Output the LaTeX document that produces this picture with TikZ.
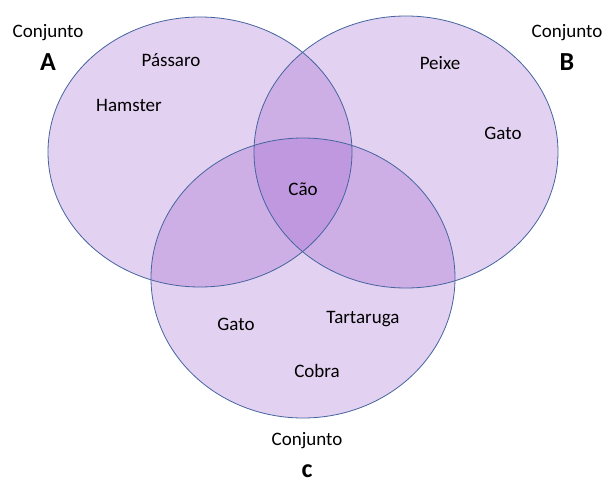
\documentclass[tikz,border=0pt]{standalone}
\usepackage{fontspec}
\setmainfont{Carlito}
\usepackage{tikz}
\usetikzlibrary{positioning}
\definecolor{setlilac}{RGB}{155,95,205}
\definecolor{setedge}{RGB}{70,100,160}

\begin{document}
\begin{tikzpicture}[x=1pt,y=-1pt,
    setfill/.style={fill=setlilac,fill opacity=0.29},
    lbl/.style={inner sep=0pt,font=\fontsize{19}{22}\selectfont},
    setname/.style={inner sep=0pt,font=\fontsize{26}{30}\selectfont\bfseries}]
  \useasboundingbox (0,0) rectangle (611,492);
  % the three sets
  \foreach \cx/\cy/\ry in {200/152/135,406/152/136,303/278/140}
    \fill[setfill] (\cx,\cy) ellipse [x radius=152, y radius=\ry];
  \foreach \cx/\cy/\ry in {200/152/135,406/152/136,303/278/140}
    \draw[setedge,line width=0.8pt] (\cx,\cy) ellipse [x radius=152, y radius=\ry];
  % set titles
  \node[lbl] (cjA) at (48,33) {Conjunto};
  \node[setname,below=12pt of cjA] (nmA) {A};
  \node[lbl] (cjB) at (567,33) {Conjunto};
  \node[setname,below=12pt of cjB] (nmB) {B};
  \node[lbl] (cjC) at (307,441) {Conjunto};
  \node[setname,below=15pt of cjC] (nmC) {c};
  % elements
  \node[lbl] (passaro) at (171,60) {Pássaro};
  \node[lbl] (hamster) at (129,105) {Hamster};
  \node[lbl] (peixe) at (440,63) {Peixe};
  \node[lbl] (gatoB) at (503,133) {Gato};
  \node[lbl] (cao) at (303,189) {Cão};
  \node[lbl] (gatoC) at (236,324) {Gato};
  \node[lbl] (tartaruga) at (363,319) {Tartaruga};
  \node[lbl] (cobra) at (317,371) {Cobra};
\end{tikzpicture}
\end{document}
